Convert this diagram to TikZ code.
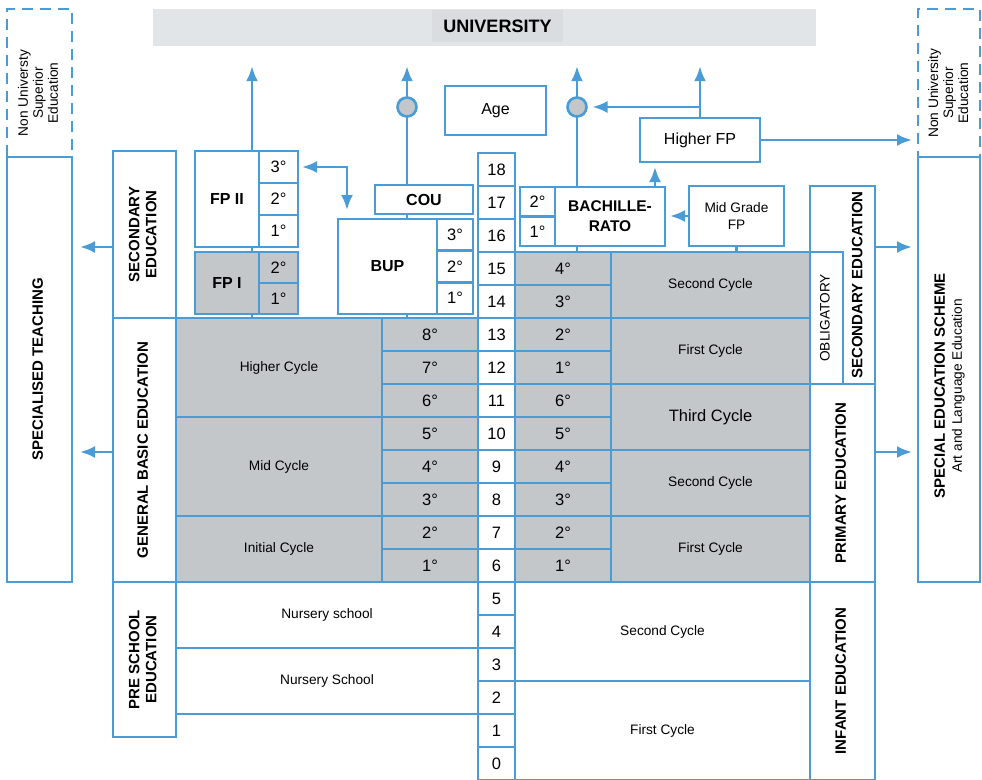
\documentclass[tikz,border=0pt]{standalone}
\usepackage{fontspec}
\setmainfont{Liberation Sans}
\usepackage{graphicx}
\usetikzlibrary{positioning, calc, arrows.meta}
\definecolor{edblue}{HTML}{4A9CD6}
\definecolor{edgray}{HTML}{C3C7C9}
\definecolor{unigray}{HTML}{E2E5E7}
\definecolor{unidark}{HTML}{DADDDF}
\pgfdeclarelayer{background}
\pgfsetlayers{background,main}
\newcommand{\vtext}[1]{\rotatebox{90}{\begin{tabular}{@{}c@{}}#1\end{tabular}}}
\tikzset{edbox/.style={draw=edblue, line width=2.6pt, fill=white, inner sep=0pt, outer sep=0pt, align=center, font=\fontsize{13.7}{15}\selectfont}}
\tikzset{edgrey/.style={edbox, fill=edgray}}
\tikzset{dashbox/.style={edbox, dash pattern=on 11pt off 7pt}}
\tikzset{deg/.style={font=\fontsize{16.5}{18}\selectfont}}
\tikzset{numcell/.style={edbox, deg, minimum width=37pt, minimum height=33pt}}
\tikzset{gradecell/.style={edgrey, deg, minimum width=96pt, minimum height=33pt}}
\tikzset{capslbl/.style={font=\bfseries\fontsize{15}{17}\selectfont}}
\tikzset{title/.style={font=\bfseries\fontsize{16}{20}\selectfont}}
\tikzset{joint/.style={circle, draw=edblue, line width=2.6pt, fill=edgray, minimum size=19pt, inner sep=0pt, outer sep=0pt}}
\tikzset{link/.style={draw=edblue, line width=2.6pt, >={Latex[length=15pt,width=12pt]}}}
\tikzset{arr/.style={link, ->}}

\begin{document}
\begin{tikzpicture}[x=1pt, y=-1pt]
\useasboundingbox (0,0) rectangle (982,779);
% university and side columns
\node[fill=unigray, minimum width=663pt, minimum height=37pt, inner sep=0pt] (univ) at (484.5,27.5) {};
\node[fill=unidark, minimum width=131pt, minimum height=32pt, inner sep=0pt, font=\bfseries\fontsize{18}{20}\selectfont] (univt) at (497.5,26) {UNIVERSITY};
\node[dashbox, minimum width=65pt, minimum height=148pt] (nusl) at (39.5,83) {};
\node[dashbox, minimum width=62pt, minimum height=148pt] (nusr) at (949,83) {};
\node[font=\fontsize{13.7}{15}\selectfont] (nuslt) at (40,93) {\vtext{Non Universty\\Superior\\Education}};
\node[font=\fontsize{13.7}{15}\selectfont] (nusrt) at (950,93) {\vtext{Non University\\Superior\\Education}};
\node[edbox, capslbl, minimum width=65pt, minimum height=425pt] (spt) at (39.5,369.5) {\vtext{SPECIALISED TEACHING}};
\node[edbox, minimum width=62pt, minimum height=425pt] (ses) at (949,369.5) {};
\node[font=\fontsize{13.7}{17}\selectfont] (sest) at (950,386) {\vtext{{\bfseries\fontsize{15}{17}\selectfont SPECIAL EDUCATION SCHEME}\\Art and Language Education}};
% left labels
\node[edbox, capslbl, minimum width=63pt, minimum height=167pt] (secl) at (144.5,234.5) {\vtext{SECONDARY\\EDUCATION}};
\node[edbox, capslbl, minimum width=63pt, minimum height=264pt] (gbe) at (144.5,450) {\vtext{GENERAL BASIC EDUCATION}};
\node[edbox, capslbl, minimum width=63pt, minimum height=155pt] (pse) at (144.5,659.5) {\vtext{PRE SCHOOL\\EDUCATION}};
% FP, BUP, COU
\node[edbox, title, minimum width=64pt, minimum height=96pt] (fp2) at (227,199) {FP II};
\foreach \g/\y in {3/167,2/199,1/231}
  \node[edbox, deg, minimum width=39pt, minimum height=32pt] (fp2g\g) at (278.5,\y) {\g°};
\node[edgrey, title, minimum width=64pt, minimum height=62pt] (fp1) at (227,283) {FP I};
\foreach \g/\y in {2/267.5,1/298.5}
  \node[edgrey, deg, minimum width=39pt, minimum height=31pt] (fp1g\g) at (278.5,\y) {\g°};
\node[edbox, title, minimum width=99pt, minimum height=95pt] (bup) at (387.5,266.5) {BUP};
\foreach \g/\y in {3/234.8,2/266.5,1/298.2}
  \node[edbox, deg, minimum width=36pt, minimum height=31.7pt] (bupg\g) at (455,\y) {\g°};
\node[edbox, title, minimum width=98pt, minimum height=29pt] (cou) at (424,199.5) {COU};
\node[edbox, font=\fontsize{16}{18}\selectfont, minimum width=101pt, minimum height=49pt] (age) at (495.5,110.5) {Age};
\node[joint] (jcou) at (407,107) {};
\node[joint] (jbach) at (577,107) {};
% BACHILLERATO and FP on the right
\node[edbox, font=\bfseries\fontsize{15.5}{20}\selectfont, minimum width=110pt, minimum height=59pt] (bach) at (610,216.5) {BACHILLE-\\RATO};
\foreach \g/\y in {2/201.75,1/231.25}
  \node[edbox, deg, minimum width=35pt, minimum height=29.5pt] (bachg\g) at (537.5,\y) {\g°};
\node[edbox, minimum width=95pt, minimum height=60pt, font=\fontsize{13.7}{17}\selectfont] (mgfp) at (736.5,216) {Mid Grade\\FP};
\node[edbox, font=\fontsize{16}{18}\selectfont, minimum width=120pt, minimum height=44pt] (hfp) at (700,140) {Higher FP};
% ages and grades
\foreach \a in {0,...,18}
  \node[numcell] (age\a) at (496.5,{169.5+(18-\a)*33}) {\a};
\foreach \a in {6,...,13} {
  \pgfmathtruncatemacro{\g}{\a-5}
  \node[gradecell] (lg\a) at (430,{169.5+(18-\a)*33}) {\g°};
}
\foreach \a/\g in {15/4,14/3,13/2,12/1,11/6,10/5,9/4,8/3,7/2,6/1}
  \node[gradecell] (rg\a) at (563,{169.5+(18-\a)*33}) {\g°};
% cycles
\node[edgrey, minimum width=206pt, minimum height=99pt] (hcyc) at (279,367.5) {Higher Cycle};
\node[edgrey, minimum width=206pt, minimum height=99pt] (mcyc) at (279,466.5) {Mid Cycle};
\node[edgrey, minimum width=206pt, minimum height=66pt] (icyc) at (279,549) {Initial Cycle};
\node[edgrey, minimum width=199pt, minimum height=66pt] (rsec2) at (710.5,285) {Second Cycle};
\node[edgrey, minimum width=199pt, minimum height=66pt] (rsec1) at (710.5,351) {First Cycle};
\node[edgrey, minimum width=199pt, minimum height=66pt, font=\fontsize{16.5}{18}\selectfont] (rpri3) at (710.5,417) {Third Cycle};
\node[edgrey, minimum width=199pt, minimum height=66pt] (rpri2) at (710.5,483) {Second Cycle};
\node[edgrey, minimum width=199pt, minimum height=66pt] (rpri1) at (710.5,549) {First Cycle};
% right labels
\node[edbox, minimum width=65pt, minimum height=198pt] (secr) at (842.5,285) {};
\node[edbox, minimum width=33pt, minimum height=132pt] (oblig) at (826.5,318) {\vtext{OBLIGATORY}};
\node[capslbl] (secrt) at (859,285) {\vtext{SECONDARY EDUCATION}};
\node[edbox, capslbl, minimum width=65pt, minimum height=198pt] (prim) at (842.5,483) {\vtext{PRIMARY EDUCATION}};
\node[edbox, capslbl, minimum width=65pt, minimum height=198pt] (infant) at (842.5,681) {\vtext{INFANT EDUCATION}};
% pre school
\node[edbox, minimum width=302pt, minimum height=66pt] (nurs1) at (327,615) {Nursery school};
\node[edbox, minimum width=302pt, minimum height=66pt] (nurs2) at (327,681) {Nursery School};
\node[edbox, minimum width=295pt, minimum height=99pt] (inf2) at (662.5,631.5) {Second Cycle};
\node[edbox, minimum width=295pt, minimum height=99pt] (inf1) at (662.5,730.5) {First Cycle};
% connectors
\coordinate (fpx) at (252,318);
\coordinate (bupx) at (347,0);
\coordinate (bachup) at ([xshift=45pt]bach.north);
\coordinate (seclout) at ([yshift=-12.5pt]secl.west);
\coordinate (gbeout) at ([yshift=-2pt]gbe.west);
\coordinate (secrout) at ([yshift=38pt]secr.east);
\coordinate (primout) at ([yshift=31pt]prim.east);
\begin{pgfonlayer}{background}
\draw[arr, shorten >=20pt] (fpx) -- (fpx |- univ.south);
\draw[link] (gbe.north -| jcou) -- (jcou);
\draw[arr, shorten >=20pt] (jcou.north) -- (jcou.north |- univ.south);
\draw[link] (rg15.north -| jbach) -- (jbach);
\draw[arr, shorten >=20pt] (jbach.north) -- (jbach.north |- univ.south);
\draw[link] (mgfp.south) -- (mgfp.south |- rg15.north);
\draw[arr, shorten >=20pt] (hfp.north) -- (hfp.north |- univ.south);
\draw[arr, shorten >=6pt] (hfp.north |- jbach) -- (jbach.east);
\draw[arr, shorten >=6pt] (hfp.east) -- (hfp.east -| nusr.west);
\draw[arr, shorten >=5pt] (bachup) -- (bachup |- hfp.south);
\draw[arr, shorten >=5pt] (mgfp.west) -- (mgfp.west -| bach.east);
\draw[link, <->, shorten <=4pt, shorten >=9pt] (fp2g3.east) -| (bup.north -| bupx);
\draw[arr, shorten >=8pt] (seclout) -- (seclout -| spt.east);
\draw[arr, shorten >=8pt] (gbeout) -- (gbeout -| spt.east);
\draw[arr, shorten >=6pt] (secrout) -- (secrout -| ses.west);
\draw[arr, shorten >=6pt] (primout) -- (primout -| ses.west);
\end{pgfonlayer}
\end{tikzpicture}
\end{document}
